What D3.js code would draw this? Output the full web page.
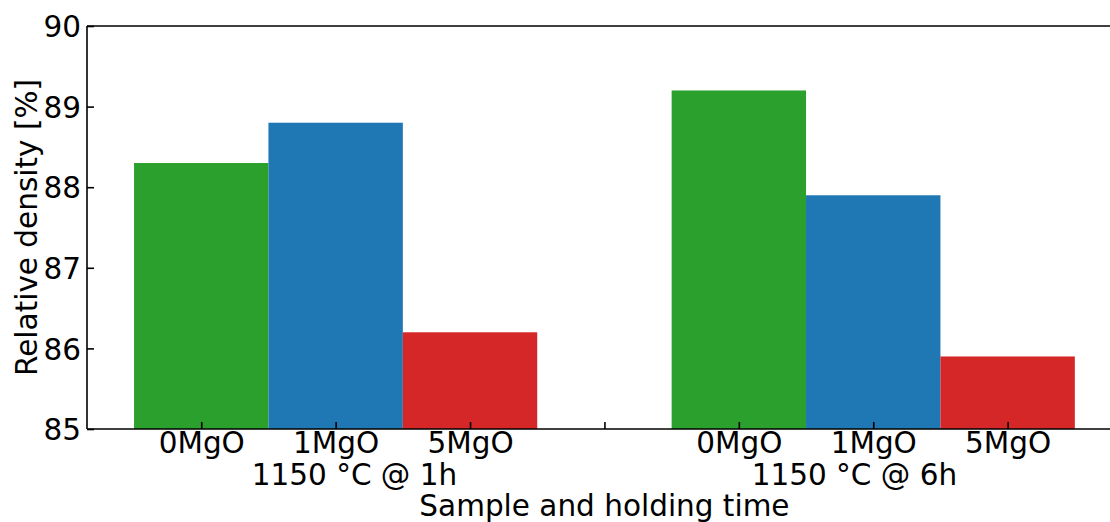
<!DOCTYPE html>
<html lang="en">
<head>
  <meta charset="UTF-8">
  <title>Relative density</title>
  <style>
    body { margin: 0; background: #fff; }
    svg text { font-family: "DejaVu Sans", sans-serif; fill: #000; }
  </style>
</head>
<body>
  <svg id="chart" width="1110" height="522"></svg>
  <script src="https://d3js.org/d3.v7.min.js"></script>
  <script>
    // data
    const samples = ["0MgO", "1MgO", "5MgO"];
    const groups = ["1150 °C @ 1h", "1150 °C @ 6h"];
    const density1h = [88.3, 88.8, 86.2];
    const density6h = [89.2, 87.9, 85.9];
    const colors = ["#2ca02c", "#1f77b4", "#d62728"];
    const yTicks = [85, 86, 87, 88, 89, 90];

    // bar slots: 0,1,2 then a gap at 3, then 4,5,6
    const bars = [];
    density1h.forEach((v, i) => bars.push({ pos: i, value: v, label: samples[i], color: colors[i] }));
    density6h.forEach((v, i) => bars.push({ pos: i + 4, value: v, label: samples[i], color: colors[i] }));
    const groupPos = [1.14, 4.86];

    const svg = d3.select("#chart");
    const plotLeft = 87, plotTop = 26, plotBottom = 429;
    const fontSize = "29.5px";

    const x = d3.scaleLinear().domain([-0.85, 6.85]).range([plotLeft, plotLeft + 7.7 * 134.4]);
    const y = d3.scaleLinear().domain([85, 90]).range([plotBottom, plotTop]);

    // bars
    svg.selectAll(".bar")
      .data(bars)
      .enter().append("rect")
      .attr("class", "bar")
      .attr("x", d => x(d.pos - 0.5))
      .attr("width", x(1) - x(0))
      .attr("y", d => y(d.value))
      .attr("height", d => y(85) - y(d.value))
      .attr("fill", d => d.color);

    // y axis
    const yAxis = svg.append("g")
      .attr("transform", `translate(${plotLeft},0)`)
      .call(d3.axisLeft(y).tickValues(yTicks).tickSize(-7).tickPadding(6).tickFormat(d3.format("d")));
    yAxis.select(".domain").remove();
    yAxis.selectAll("line").attr("stroke", "#000").attr("stroke-width", 1.6);
    yAxis.selectAll("text").style("font-size", fontSize).attr("dy", "0.36em");

    // x axis
    const xTicks = bars.map(d => d.pos).concat([3]);
    const xAxis = svg.append("g")
      .attr("transform", `translate(0,${plotBottom})`)
      .call(d3.axisBottom(x).tickValues(xTicks).tickSize(-7)
        .tickFormat(d => { const b = bars.find(e => e.pos === d); return b ? b.label : ""; }));
    xAxis.select(".domain").remove();
    xAxis.selectAll("line").attr("stroke", "#000").attr("stroke-width", 1.6);
    xAxis.selectAll("text").style("font-size", fontSize).attr("y", 24).attr("dy", 0);

    // group labels
    svg.selectAll(".group-label")
      .data(groups)
      .enter().append("text")
      .attr("class", "group-label")
      .attr("x", (d, i) => x(groupPos[i]))
      .attr("y", 485)
      .attr("text-anchor", "middle")
      .style("font-size", fontSize)
      .text(d => d);

    // spines
    const spine = svg.append("g").attr("stroke", "#000").attr("stroke-width", 1.6).attr("fill", "none");
    spine.append("line").attr("x1", plotLeft).attr("x2", plotLeft).attr("y1", plotTop).attr("y2", plotBottom);
    spine.append("line").attr("x1", plotLeft).attr("x2", 1110).attr("y1", plotTop).attr("y2", plotTop);
    spine.append("line").attr("x1", plotLeft).attr("x2", 1110).attr("y1", plotBottom).attr("y2", plotBottom);

    // axis titles
    svg.append("text")
      .attr("x", x(3))
      .attr("y", 516)
      .attr("text-anchor", "middle")
      .style("font-size", fontSize)
      .text("Sample and holding time");

    svg.append("text")
      .attr("transform", `translate(37,${(plotTop + plotBottom) / 2}) rotate(-90)`)
      .attr("text-anchor", "middle")
      .style("font-size", fontSize)
      .text("Relative density [%]");
  </script>
</body>
</html>
